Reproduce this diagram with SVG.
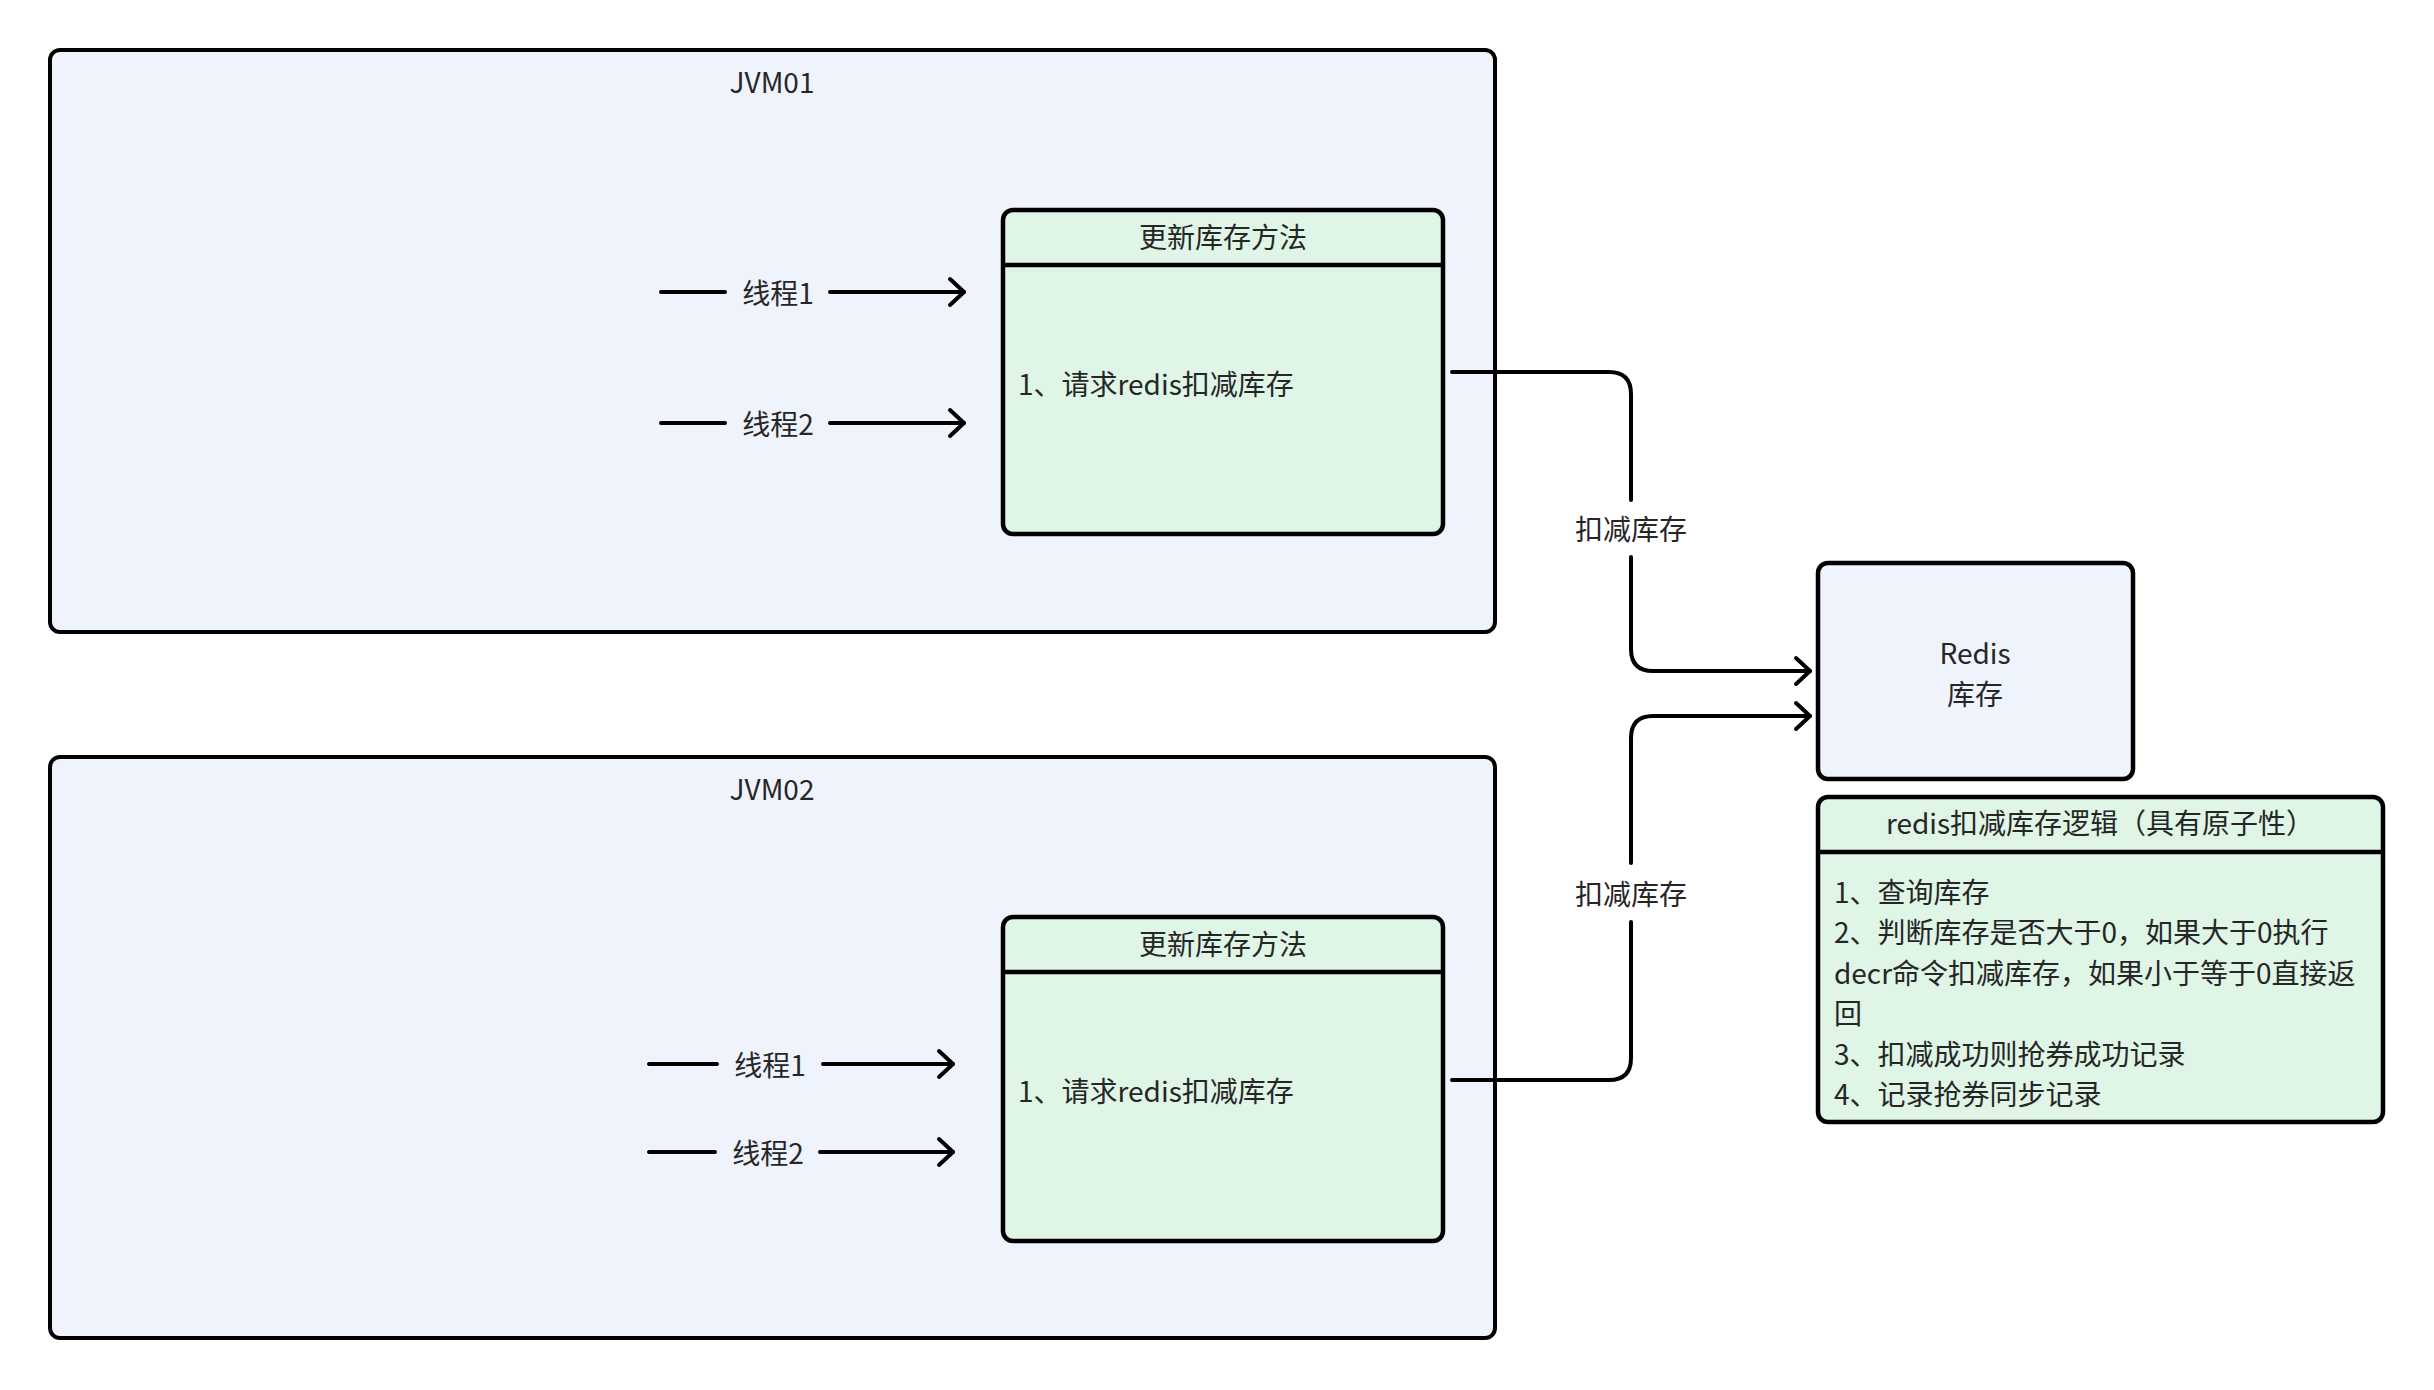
<svg xmlns="http://www.w3.org/2000/svg" width="2434" height="1390" viewBox="0 0 2434 1390">
<style>
  text { font-family: "Noto Sans CJK SC", "Noto Sans", sans-serif; font-size: 28px; fill: #262626; }
  .c { text-anchor: middle; }
  .jvm { fill: #EEF3FC; stroke: #000; stroke-width: 4; }
  .method { fill: #DFF5E6; stroke: #000; stroke-width: 4.5; }
  .redis { fill: #EEF3FC; stroke: #000; stroke-width: 4.5; }
  .div { stroke: #000; stroke-width: 4.5; fill: none; }
  .edge { fill: none; stroke: #000; stroke-width: 4; stroke-linecap: round; stroke-linejoin: round; }
</style>
<defs>
  <marker id="arrow" markerUnits="userSpaceOnUse" viewBox="-18 -17 22 34" refX="0" refY="0" markerWidth="22" markerHeight="34" orient="auto" overflow="visible">
    <path d="M-14,-13 L0,0 L-14,13" fill="none" stroke="#000" stroke-width="4" stroke-linecap="round" stroke-linejoin="round"/>
  </marker>
</defs>
<rect width="2434" height="1390" fill="#fff"/>

<g id="jvm01">
  <rect class="jvm" x="50" y="50" width="1445" height="582" rx="10"/>
  <text class="c" x="772" y="93">JVM01</text>
</g>
<g id="jvm02">
  <rect class="jvm" x="50" y="757" width="1445" height="581" rx="10"/>
  <text class="c" x="772" y="800">JVM02</text>
</g>

<g id="method1">
  <rect class="method" x="1003" y="210" width="440" height="324" rx="10"/>
  <line class="div" x1="1003" y1="265" x2="1443" y2="265"/>
  <text class="c" x="1223" y="248">更新库存方法</text>
  <text x="1018" y="395">1、请求redis扣减库存</text>
</g>
<g id="method2">
  <rect class="method" x="1003" y="917" width="440" height="324" rx="10"/>
  <line class="div" x1="1003" y1="972" x2="1443" y2="972"/>
  <text class="c" x="1223" y="955">更新库存方法</text>
  <text x="1018" y="1102">1、请求redis扣减库存</text>
</g>

<g id="redis">
  <rect class="redis" x="1818" y="563" width="315" height="216" rx="10"/>
  <text class="c" x="1975" y="664">Redis</text>
  <text class="c" x="1975" y="705">库存</text>
</g>

<g id="logic">
  <rect class="method" x="1818" y="797" width="565" height="325" rx="10"/>
  <line class="div" x1="1818" y1="852" x2="2383" y2="852"/>
  <text class="c" x="2100" y="834">redis扣减库存逻辑（具有原子性）</text>
  <text x="1834" y="903">1、查询库存</text>
  <text x="1834" y="943">2、判断库存是否大于0，如果大于0执行</text>
  <text x="1834" y="984">decr命令扣减库存，如果小于等于0直接返</text>
  <text x="1834" y="1024">回</text>
  <text x="1834" y="1065">3、扣减成功则抢券成功记录</text>
  <text x="1834" y="1105">4、记录抢券同步记录</text>
</g>

<g id="connectors">
  <path class="edge" d="M661,292 H725 M830,292 H964" marker-end="url(#arrow)"/>
  <text class="c" x="778" y="304">线程1</text>
  <path class="edge" d="M661,423 H725 M830,423 H964" marker-end="url(#arrow)"/>
  <text class="c" x="778" y="435">线程2</text>
  <path class="edge" d="M649,1064 H717 M823,1064 H953" marker-end="url(#arrow)"/>
  <text class="c" x="770" y="1076">线程1</text>
  <path class="edge" d="M649,1152 H715 M820,1152 H953" marker-end="url(#arrow)"/>
  <text class="c" x="768" y="1164">线程2</text>

  <path class="edge" d="M1452,372 H1609 Q1631,372 1631,394 V500 M1631,557 V649 Q1631,671 1653,671 H1810" marker-end="url(#arrow)"/>
  <text class="c" x="1631" y="540">扣减库存</text>
  <path class="edge" d="M1452,1080 H1609 Q1631,1080 1631,1058 V922 M1631,863 V738 Q1631,716 1653,716 H1810" marker-end="url(#arrow)"/>
  <text class="c" x="1631" y="905">扣减库存</text>
</g>
</svg>
